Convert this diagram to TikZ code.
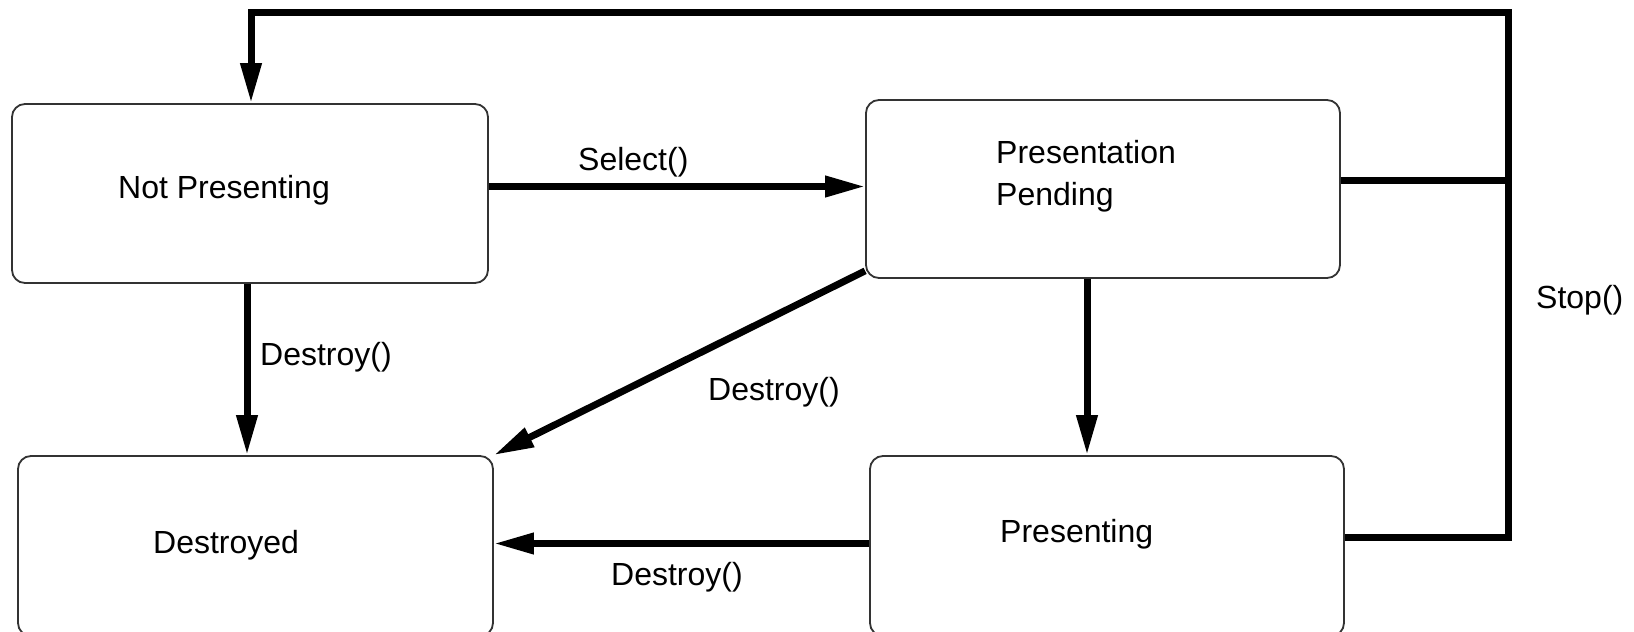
\documentclass[tikz,border=0pt]{standalone}
\usepackage{fontspec}
\setmainfont{Liberation Sans}
\usetikzlibrary{arrows.meta}
\begin{document}
\begin{tikzpicture}[x=1pt,y=-1pt,
  state/.style={draw=black!80, line width=1.8pt, rounded corners=13pt, inner sep=0pt},
  conn/.style={line width=7pt},
  arr/.style={conn,-{Triangle[length=40pt,width=20pt]}},
  lbl/.style={anchor=base west, inner sep=0pt, font=\fontsize{32}{40}\selectfont},
]
\useasboundingbox[fill=white] (0,0) rectangle (1634,632);
% states
\node[state, minimum width=476pt, minimum height=179pt] (np) at (250,193.5) {};
\node[state, minimum width=474pt, minimum height=178pt] (pp) at (1103,189) {};
\node[state, minimum width=475pt, minimum height=180pt] (de) at (255.5,546) {};
\node[state, minimum width=474pt, minimum height=180pt] (pr) at (1107,546) {};
% state texts
\node[lbl] (npt) at (118,198) {Not Presenting};
\node[lbl] (ppt1) at (996,163) {Presentation};
\node[lbl] (ppt2) at (996,205) {Pending};
\node[lbl] (det) at (153,553) {Destroyed};
\node[lbl] (prt) at (1000,542) {Presenting};
% helper coordinates
\coordinate (y186) at (0,186.5);
\coordinate (x247) at (247,0);
\coordinate (x1087) at (1087,0);
\coordinate (y543) at (0,543.5);
\coordinate (j1) at (1508,180);
\coordinate (j2) at (1508,537);
\coordinate (tr) at (1508,12.5);
\coordinate (tl) at (251,12.5);
% connectors
\draw[arr] (np.east |- y186) -- (pp.west |- y186);
\draw[arr] (np.south -| x247) -- (de.north -| x247);
\draw[arr] ([yshift=8pt]pp.south west) -- (de.north east);
\draw[arr] (pp.south -| x1087) -- (pr.north -| x1087);
\draw[arr] (pr.west |- y543) -- (de.east |- y543);
\draw[conn] (pp.east |- j1) -- (j1);
\draw[arr] (pr.east |- j2) -- (j2) -- (tr) -- (tl) -- (np.north -| tl);
% connector labels
\node[lbl] (selt) at (578,170) {Select()};
\node[lbl] (d1) at (260,365) {Destroy()};
\node[lbl] (d2) at (708,400) {Destroy()};
\node[lbl] (d3) at (611,585) {Destroy()};
\node[lbl] (st) at (1536,308) {Stop()};
\end{tikzpicture}
\end{document}
